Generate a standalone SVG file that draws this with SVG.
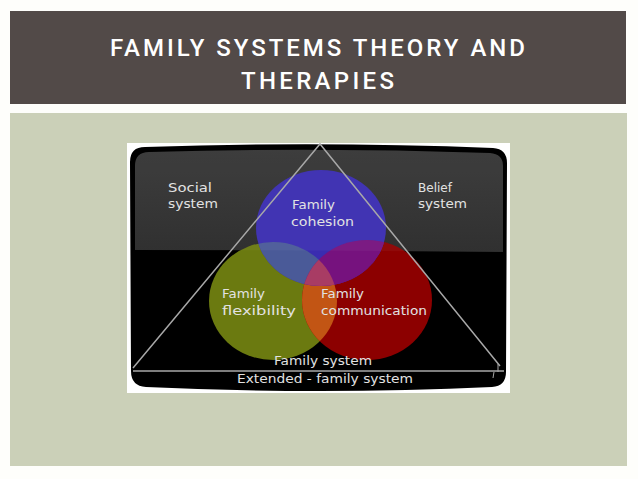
<svg xmlns="http://www.w3.org/2000/svg" width="638" height="479" viewBox="0 0 638 479">
<style>
.hand{font-family:"DejaVu Sans",sans-serif;font-size:13px;fill:#e2e2e2;}
.title{font-family:Roboto,"Liberation Sans",sans-serif;font-size:24px;font-weight:500;fill:#ffffff;}
.tri{fill:none;stroke:#a8a8a8;stroke-width:1.5;}
</style>
<defs>
<linearGradient id="glare" x1="0" y1="0" x2="0" y2="1">
<stop offset="0" stop-color="#363636"/>
<stop offset="1" stop-color="#282828"/>
</linearGradient>
<clipPath id="cG"><ellipse cx="273" cy="301" rx="64" ry="59"/></clipPath>
<clipPath id="cR"><ellipse cx="367" cy="300" rx="65" ry="60"/></clipPath>
</defs>
<rect width="638" height="479" fill="#fefefb"/>
<g id="header">
<rect x="10" y="11" width="616" height="93" fill="#524a48"/>
<text class="title" x="110" y="56" textLength="415" lengthAdjust="spacing">FAMILY SYSTEMS THEORY AND</text>
<text class="title" x="241" y="89" textLength="153" lengthAdjust="spacing">THERAPIES</text>
</g>
<rect x="10" y="113" width="617" height="353" fill="#cbd0b8"/>
<g id="picture">
<rect x="127" y="143" width="383" height="250" fill="#ffffff"/>
<path d="M145 147 Q320 141 493 148 Q507 149 507 163 L506 372 Q506 386 492 387 Q320 395 146 387 Q131 386 131 371 L130 162 Q130 147 145 147 Z" fill="#000000"/>
<path d="M149 152 Q320 147 490 153 Q503 154 503 166 L503 252 Q320 250 135 250 L135 166 Q135 152 149 152 Z" fill="url(#glare)"/>
</g>
<g id="circles">
<ellipse id="flexibility" cx="273" cy="301" rx="64" ry="59" fill="#6b7a10"/>
<ellipse id="communication" cx="367" cy="300" rx="65" ry="60" fill="#8c0000"/>
<ellipse id="cohesion" cx="321" cy="228" rx="65" ry="58" fill="#3a2cb0"/>
<ellipse cx="367" cy="300" rx="65" ry="60" fill="#c25514" clip-path="url(#cG)"/>
<ellipse cx="321" cy="228" rx="65" ry="58" fill="#4a5a98" clip-path="url(#cG)"/>
<ellipse cx="321" cy="228" rx="65" ry="58" fill="#76127e" clip-path="url(#cR)"/>
<g clip-path="url(#cR)"><ellipse cx="321" cy="228" rx="65" ry="58" fill="#a83c64" clip-path="url(#cG)"/></g>
<path d="M149 152 Q320 147 490 153 Q503 154 503 166 L503 252 Q320 250 135 250 L135 166 Q135 152 149 152 Z" fill="#ffffff" opacity="0.04"/>
</g>
<g id="connectors">
<path class="tri" d="M133 368 L320 144 L500 366"/>
<line x1="133" y1="371" x2="504" y2="371" stroke="#a8a8a8" stroke-width="1.5"/>
<line x1="498" y1="364" x2="498" y2="372" stroke="#a8a8a8" stroke-width="1"/>
<line x1="494" y1="372" x2="493" y2="378" stroke="#a8a8a8" stroke-width="1"/>
</g>
<g id="labels">
<text class="hand" x="168" y="192" textLength="44" lengthAdjust="spacingAndGlyphs">Social</text>
<text class="hand" x="168" y="208" textLength="50" lengthAdjust="spacingAndGlyphs">system</text>
<text class="hand" x="418" y="192" textLength="34" lengthAdjust="spacingAndGlyphs">Belief</text>
<text class="hand" x="418" y="208" textLength="49" lengthAdjust="spacingAndGlyphs">system</text>
<text class="hand" x="292" y="209" textLength="43" lengthAdjust="spacingAndGlyphs">Family</text>
<text class="hand" x="291" y="226" textLength="63" lengthAdjust="spacingAndGlyphs">cohesion</text>
<text class="hand" x="222" y="298" textLength="43" lengthAdjust="spacingAndGlyphs">Family</text>
<text class="hand" x="222" y="315" textLength="74" lengthAdjust="spacingAndGlyphs">flexibility</text>
<text class="hand" x="321" y="298" textLength="43" lengthAdjust="spacingAndGlyphs">Family</text>
<text class="hand" x="321" y="315" textLength="106" lengthAdjust="spacingAndGlyphs">communication</text>
<text class="hand" x="274" y="365" textLength="98" lengthAdjust="spacingAndGlyphs">Family system</text>
<text class="hand" x="237" y="383" textLength="176" lengthAdjust="spacingAndGlyphs">Extended - family system</text>
</g>
</svg>
